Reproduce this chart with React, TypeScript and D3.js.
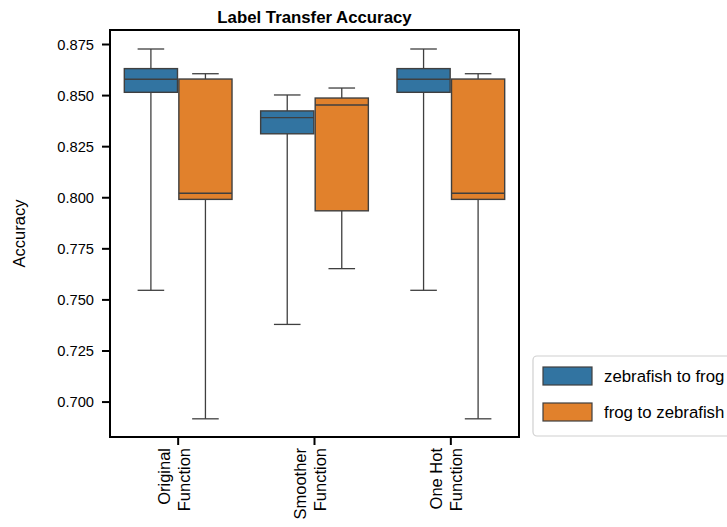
import React from "react";
import * as d3 from "d3";

const categories = ["Original\nFunction", "Smoother\nFunction", "One Hot\nFunction"];
const seriesNames = ["zebrafish to frog", "frog to zebrafish"];
const colors = ["#3274a1", "#e1812c"];
// [whiskerLow, q1, median, q3, whiskerHigh] per category
const zebraToFrog = [
  [0.7547, 0.8516, 0.858, 0.8632, 0.8728],
  [0.738, 0.8313, 0.8392, 0.8425, 0.8503],
  [0.7547, 0.8516, 0.858, 0.8632, 0.8728],
];
const frogToZebra = [
  [0.6918, 0.7992, 0.8022, 0.8581, 0.8607],
  [0.7653, 0.7936, 0.8454, 0.8488, 0.8537],
  [0.6918, 0.7992, 0.8022, 0.8581, 0.8607],
];
const yTicks = [0.7, 0.725, 0.75, 0.775, 0.8, 0.825, 0.85, 0.875];

const W = 727, H = 527;
const L = 110, R = 519, T = 30, B = 437;
const FONT = "'Liberation Sans', Arial, Helvetica, sans-serif";

export default function App() {
  const y = d3.scaleLinear().domain([0.6829, 0.8821]).range([B, T]);
  const x = d3.scaleBand().domain(categories).range([L, R]).padding(0);
  const bw = x.bandwidth();
  const series = [zebraToFrog, frogToZebra];
  const fmt = d3.format(".3f");
  const edge = "#3f3f3f";

  return (
    <svg width={W} height={H} style={{ position: "absolute", left: 0, top: 0, background: "#fff" }} fontFamily={FONT}>
      <text x={(L + R) / 2} y={23} textAnchor="middle" fontWeight="bold" fontSize={16.8} fill="#000">
        Label Transfer Accuracy
      </text>
      {categories.map((c, ci) =>
        series.map((s, si) => {
          const [lo, q1, med, q3, hi] = s[ci];
          const cx = x(c)! + bw / 2 + (si === 0 ? -0.2 : 0.2) * bw;
          const w = 0.39 * bw;
          return (
            <g key={c + si}>
              <line x1={cx} x2={cx} y1={y(hi)} y2={y(q3)} stroke={edge} strokeWidth={1.3} />
              <line x1={cx} x2={cx} y1={y(q1)} y2={y(lo)} stroke={edge} strokeWidth={1.3} />
              <line x1={cx - w / 4} x2={cx + w / 4} y1={y(hi)} y2={y(hi)} stroke={edge} strokeWidth={1.3} />
              <line x1={cx - w / 4} x2={cx + w / 4} y1={y(lo)} y2={y(lo)} stroke={edge} strokeWidth={1.3} />
              <rect x={cx - w / 2} y={y(q3)} width={w} height={y(q1) - y(q3)} fill={colors[si]} stroke={edge} strokeWidth={1.4} />
              <line x1={cx - w / 2} x2={cx + w / 2} y1={y(med)} y2={y(med)} stroke={edge} strokeWidth={1.4} />
            </g>
          );
        })
      )}
      <rect x={L} y={T} width={R - L} height={B - T} fill="none" stroke="#000" strokeWidth={2} />
      {yTicks.map((t) => (
        <g key={t}>
          <line x1={L - 8} x2={L} y1={y(t)} y2={y(t)} stroke="#000" strokeWidth={2} />
          <text x={L - 16} y={y(t)} dy="0.35em" textAnchor="end" fontSize={14.7} fill="#000">
            {fmt(t)}
          </text>
        </g>
      ))}
      {categories.map((c) => {
        const cx = x(c)! + bw / 2;
        const lines = c.split("\n");
        return (
          <g key={c}>
            <line x1={cx} x2={cx} y1={B} y2={B + 8} stroke="#000" strokeWidth={2} />
            {lines.map((ln, i) => (
              <text key={i} transform={`translate(${cx + (i === 0 ? -8.5 : 11.5)},${B + 11}) rotate(-90)`} textAnchor="end" fontSize={16.5} fill="#000">
                {ln}
              </text>
            ))}
          </g>
        );
      })}
      <text transform={`translate(25,${(T + B) / 2}) rotate(-90)`} textAnchor="middle" fontSize={16.5} fill="#000">
        Accuracy
      </text>
      <rect x={533} y={356} width={220} height={80} rx={4} fill="#fff" stroke="#d0d0d0" strokeWidth={1.2} />
      {seriesNames.map((n, i) => (
        <g key={n}>
          <rect x={543} y={367 + i * 36} width={49} height={18} fill={colors[i]} stroke={edge} strokeWidth={1.2} />
          <text x={604} y={382 + i * 36} fontSize={16.8} fill="#000">
            {n}
          </text>
        </g>
      ))}
    </svg>
  );
}
